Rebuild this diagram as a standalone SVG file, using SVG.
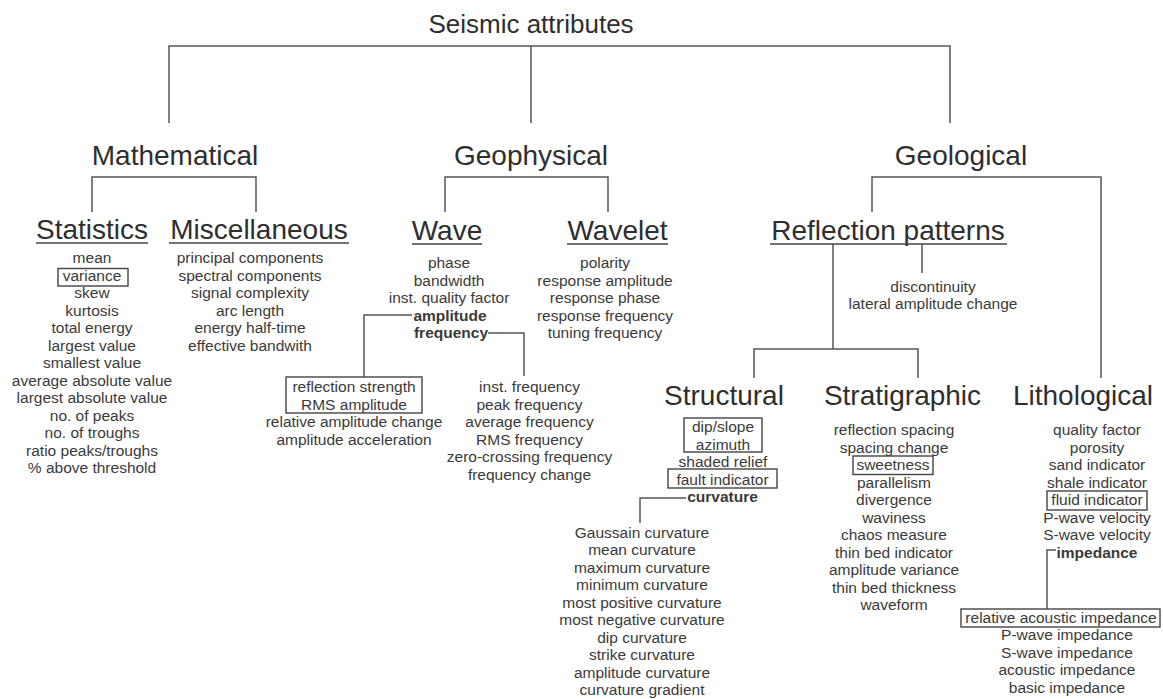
<svg xmlns="http://www.w3.org/2000/svg" width="1163" height="699" viewBox="0 0 1163 699">
<style>
text{font-family:"Liberation Sans",Arial,sans-serif;text-anchor:middle;fill:#3a3a3a}
.t0{font-size:26px;fill:#2e2e2e}
.t1{font-size:28px;fill:#2e2e2e}
.t2{font-size:28px;fill:#2e2e2e}
.s{font-size:15.5px}
.b{font-weight:bold}
.ln{stroke:#555;stroke-width:1.5;fill:none}
.ul{stroke:#444;stroke-width:1.6}
.bx{stroke:#444;stroke-width:1.4;fill:none}
</style>
<rect width="1163" height="699" fill="#fff"/>
<g id="connectors" class="ln">
<path d="M169 123V46H950V123M531 46V123"/>
<path d="M92 212V177H256V212"/>
<path d="M445 212V177H608V212"/>
<path d="M872 212V177H1101V378"/>
<path d="M833 244V349M754 378V349H918V378M922 244V273"/>
<path d="M412 315H364V377"/>
<path d="M488 333H524V376"/>
<path d="M686 498H640V523"/>
<path d="M1056 550H1047V609"/>
</g>
<g id="root"><text class="t0" x="531" y="33">Seismic attributes</text></g>
<g id="mathematical"><text class="t1" x="175" y="165">Mathematical</text></g>
<g id="geophysical"><text class="t1" x="531" y="165">Geophysical</text></g>
<g id="geological"><text class="t1" x="961" y="165">Geological</text></g>
<g id="statistics">
<text class="t2" x="92" y="239">Statistics</text><line class="ul" x1="36" y1="243" x2="148" y2="243"/>
<text class="s" x="92" y="263">mean</text>
<text class="s" x="92" y="280.5">variance</text><rect class="bx" x="58" y="268.5" width="70" height="17.5"/>
<text class="s" x="92" y="298">skew</text>
<text class="s" x="92" y="315.5">kurtosis</text>
<text class="s" x="92" y="333">total energy</text>
<text class="s" x="92" y="350.5">largest value</text>
<text class="s" x="92" y="368">smallest value</text>
<text class="s" x="92" y="385.5">average absolute value</text>
<text class="s" x="92" y="403">largest absolute value</text>
<text class="s" x="92" y="420.5">no. of peaks</text>
<text class="s" x="92" y="438">no. of troughs</text>
<text class="s" x="92" y="455.5">ratio peaks/troughs</text>
<text class="s" x="92" y="473">% above threshold</text>
</g>
<g id="miscellaneous">
<text class="t2" x="259" y="239">Miscellaneous</text><line class="ul" x1="169" y1="243" x2="349" y2="243"/>
<text class="s" x="250" y="263">principal components</text>
<text class="s" x="250" y="280.5">spectral components</text>
<text class="s" x="250" y="298">signal complexity</text>
<text class="s" x="250" y="315.5">arc length</text>
<text class="s" x="250" y="333">energy half-time</text>
<text class="s" x="250" y="350.5">effective bandwith</text>
</g>
<g id="wave">
<text class="t2" x="447" y="240">Wave</text><line class="ul" x1="412" y1="244" x2="482" y2="244"/>
<text class="s" x="449" y="268">phase</text>
<text class="s" x="449" y="285.5">bandwidth</text>
<text class="s" x="449" y="303">inst. quality factor</text>
<text class="s b" x="450" y="320.5">amplitude</text>
<text class="s b" x="451" y="338">frequency</text>
</g>
<g id="wavelet">
<text class="t2" x="617.5" y="240">Wavelet</text><line class="ul" x1="567" y1="244" x2="668" y2="244"/>
<text class="s" x="605" y="268">polarity</text>
<text class="s" x="605" y="285.5">response amplitude</text>
<text class="s" x="605" y="303">response phase</text>
<text class="s" x="605" y="320.5">response frequency</text>
<text class="s" x="605" y="338">tuning frequency</text>
</g>
<g id="amplitude-list">
<rect class="bx" x="286" y="377" width="136" height="36"/>
<text class="s" x="354" y="392">reflection strength</text>
<text class="s" x="354" y="409.5">RMS amplitude</text>
<text class="s" x="354" y="427">relative amplitude change</text>
<text class="s" x="354" y="444.5">amplitude acceleration</text>
</g>
<g id="frequency-list">
<text class="s" x="529.5" y="392">inst. frequency</text>
<text class="s" x="529.5" y="409.5">peak frequency</text>
<text class="s" x="529.5" y="427">average frequency</text>
<text class="s" x="529.5" y="444.5">RMS frequency</text>
<text class="s" x="529.5" y="462">zero-crossing frequency</text>
<text class="s" x="529.5" y="479.5">frequency change</text>
</g>
<g id="reflection-patterns">
<text class="t2" x="888" y="240">Reflection patterns</text><line class="ul" x1="770" y1="244" x2="1007" y2="244"/>
<text class="s" x="933" y="292">discontinuity</text>
<text class="s" x="933" y="309">lateral amplitude change</text>
</g>
<g id="structural">
<text class="t2" x="724" y="405">Structural</text>
<rect class="bx" x="684" y="418" width="78" height="34"/>
<text class="s" x="723" y="432">dip/slope</text>
<text class="s" x="723" y="449.5">azimuth</text>
<text class="s" x="723" y="467">shaded relief</text>
<rect class="bx" x="668" y="469" width="109" height="19"/>
<text class="s" x="722.5" y="484.5">fault indicator</text>
<text class="s b" x="722.5" y="502">curvature</text>
</g>
<g id="curvature-list">
<text class="s" x="642" y="537.5">Gaussain curvature</text>
<text class="s" x="642" y="555">mean curvature</text>
<text class="s" x="642" y="572.5">maximum curvature</text>
<text class="s" x="642" y="590">minimum curvature</text>
<text class="s" x="642" y="607.5">most positive curvature</text>
<text class="s" x="642" y="625">most negative curvature</text>
<text class="s" x="642" y="642.5">dip curvature</text>
<text class="s" x="642" y="660">strike curvature</text>
<text class="s" x="642" y="677.5">amplitude curvature</text>
<text class="s" x="642" y="695">curvature gradient</text>
</g>
<g id="stratigraphic">
<text class="t2" x="902.5" y="405">Stratigraphic</text>
<text class="s" x="894" y="435">reflection spacing</text>
<text class="s" x="894" y="452.5">spacing change</text>
<rect class="bx" x="853" y="456" width="80" height="18.5"/>
<text class="s" x="893" y="470">sweetness</text>
<text class="s" x="894" y="487.5">parallelism</text>
<text class="s" x="894" y="505">divergence</text>
<text class="s" x="894" y="522.5">waviness</text>
<text class="s" x="894" y="540">chaos measure</text>
<text class="s" x="894" y="557.5">thin bed indicator</text>
<text class="s" x="894" y="575">amplitude variance</text>
<text class="s" x="894" y="592.5">thin bed thickness</text>
<text class="s" x="894" y="610">waveform</text>
</g>
<g id="lithological">
<text class="t2" x="1083" y="405">Lithological</text>
<text class="s" x="1097" y="435">quality factor</text>
<text class="s" x="1097" y="452.5">porosity</text>
<text class="s" x="1097" y="470">sand indicator</text>
<text class="s" x="1097" y="487.5">shale indicator</text>
<rect class="bx" x="1047" y="491" width="100" height="19"/>
<text class="s" x="1097" y="505">fluid indicator</text>
<text class="s" x="1097" y="522.5">P-wave velocity</text>
<text class="s" x="1097" y="540">S-wave velocity</text>
<text class="s b" x="1097" y="557.5">impedance</text>
</g>
<g id="impedance-list">
<rect class="bx" x="961" y="609" width="199" height="18"/>
<text class="s" x="1061" y="622.5">relative acoustic impedance</text>
<text class="s" x="1067" y="640">P-wave impedance</text>
<text class="s" x="1067" y="657.5">S-wave impedance</text>
<text class="s" x="1067" y="675">acoustic impedance</text>
<text class="s" x="1067" y="692.5">basic impedance</text>
</g>
</svg>
